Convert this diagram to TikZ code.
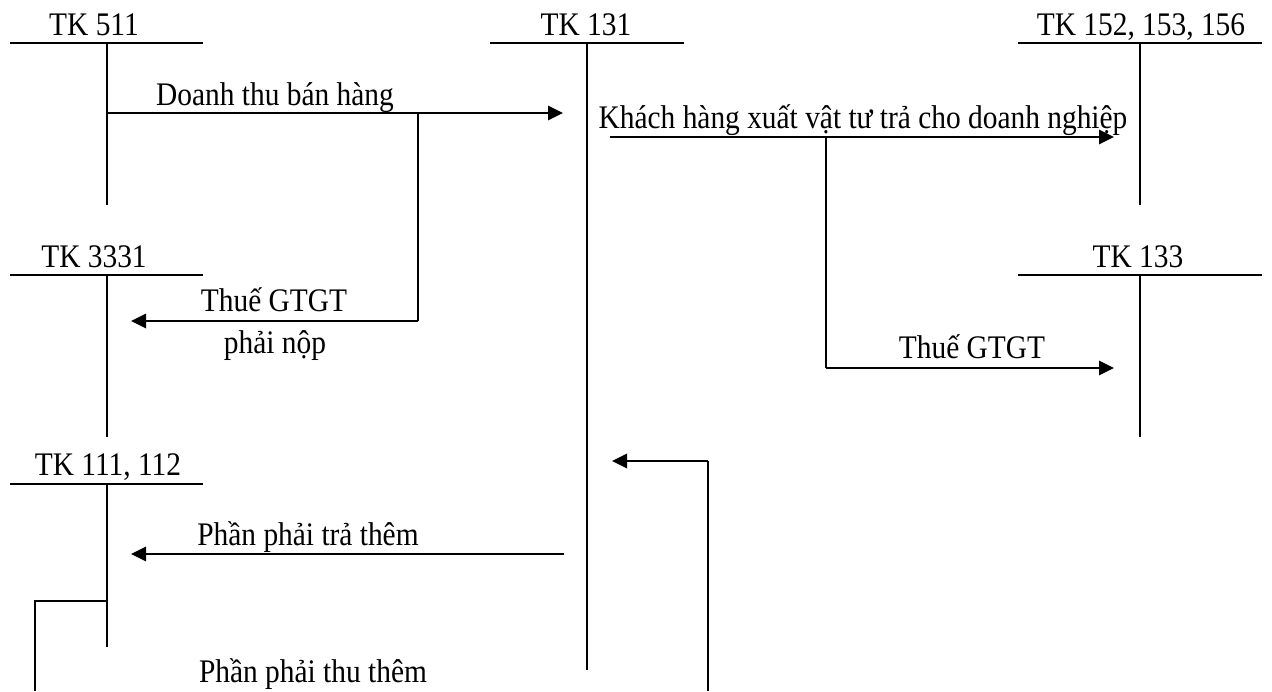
\documentclass[tikz,border=0pt]{standalone}
\usepackage{fontspec}
\usepackage{graphicx}
\setmainfont{Liberation Serif}
\usetikzlibrary{arrows.meta}
% labels are set slightly taller than the font's natural shape
\newcommand{\tallfont}[1]{\scalebox{1}[1.12]{#1}}
\begin{document}
\begin{tikzpicture}[x=0.5pt,y=-0.5pt,
  rule/.style={line width=0.9pt},
  flow/.style={line width=1.4pt,-{Triangle[length=7.5pt,width=7pt]}},
  link/.style={line width=0.9pt},
  lbl/.style={font=\fontsize{14.7}{17}\selectfont,inner sep=0pt,anchor=base},
]
\useasboundingbox (0,0) rectangle (1272,691);

% ---- T-accounts: top rule, vertical stem, title ----
% TK 511
\coordinate (h511a) at (10,43);  \coordinate (h511b) at (203,43);
\coordinate (s511a) at (107,43); \coordinate (s511b) at (107,205);
\draw[rule] (h511a) -- (h511b); \draw[rule] (s511a) -- (s511b);
\node[lbl] (t511) at (94,35) {\tallfont{TK 511}};

% TK 131
\coordinate (h131a) at (490,43);  \coordinate (h131b) at (684,43);
\coordinate (s131a) at (587,43);  \coordinate (s131b) at (587,670);
\draw[rule] (h131a) -- (h131b); \draw[rule] (s131a) -- (s131b);
\node[lbl] (t131) at (586,35) {\tallfont{TK 131}};

% TK 152, 153, 156
\coordinate (h152a) at (1018,43);  \coordinate (h152b) at (1262,43);
\coordinate (s152a) at (1140,43);  \coordinate (s152b) at (1140,205);
\draw[rule] (h152a) -- (h152b); \draw[rule] (s152a) -- (s152b);
\node[lbl] (t152) at (1141,35) {\tallfont{TK 152, 153, 156}};

% TK 3331
\coordinate (h3331a) at (10,275);  \coordinate (h3331b) at (203,275);
\coordinate (s3331a) at (107,275); \coordinate (s3331b) at (107,437);
\draw[rule] (h3331a) -- (h3331b); \draw[rule] (s3331a) -- (s3331b);
\node[lbl] (t3331) at (94,267) {\tallfont{TK 3331}};

% TK 133
\coordinate (h133a) at (1018,275);  \coordinate (h133b) at (1262,275);
\coordinate (s133a) at (1140,275);  \coordinate (s133b) at (1140,437);
\draw[rule] (h133a) -- (h133b); \draw[rule] (s133a) -- (s133b);
\node[lbl] (t133) at (1138,267) {\tallfont{TK 133}};

% TK 111, 112
\coordinate (h111a) at (10,484);  \coordinate (h111b) at (203,484);
\coordinate (s111a) at (107,484); \coordinate (s111b) at (107,647);
\draw[rule] (h111a) -- (h111b); \draw[rule] (s111a) -- (s111b);
\node[lbl] (t111) at (108,475) {\tallfont{TK 111, 112}};

% ---- entries ----
% sales revenue with output VAT branch
\coordinate (dA) at (107,113); \coordinate (dB) at (563,113);
\coordinate (dJ) at (418,113); \coordinate (dK) at (418,321);
\coordinate (dT) at (131,321);
\draw[flow] (dA) -- (dB);
\draw[link] (dJ) -- (dK);
\draw[flow] (dK) -- (dT);
\node[lbl] (l1) at (275,105) {\tallfont{Doanh thu bán hàng}};
\node[lbl] (l2) at (274,311) {\tallfont{Thuế GTGT}};
\node[lbl] (l3) at (275,353) {\tallfont{phải nộp}};

% goods received from customer with input VAT branch
\coordinate (kA) at (610,137); \coordinate (kB) at (1114,137);
\coordinate (kJ) at (826,137); \coordinate (kK) at (826,368);
\coordinate (kT) at (1114,368);
\draw[flow] (kA) -- (kB);
\draw[link] (kJ) -- (kK);
\draw[flow] (kK) -- (kT);
\node[lbl] (l4) at (863,128) {\tallfont{Khách hàng xuất vật tư trả cho doanh nghiệp}};
\node[lbl] (l5) at (972,358) {\tallfont{Thuế GTGT}};

% settlement of the difference
\coordinate (pA) at (564,554); \coordinate (pB) at (131,554);
\draw[flow] (pA) -- (pB);
\node[lbl] (l6) at (308,545) {\tallfont{Phần phải trả thêm}};

\coordinate (qA) at (107,601); \coordinate (qB) at (35,601);
\coordinate (qC) at (35,691);
\draw[link] (qA) -- (qB) -- (qC);
\coordinate (rA) at (708,691); \coordinate (rB) at (708,461);
\coordinate (rT) at (612,461);
\draw[link] (rA) -- (rB);
\draw[flow] (rB) -- (rT);
\node[lbl] (l7) at (313,682) {\tallfont{Phần phải thu thêm}};
\end{tikzpicture}
\end{document}
